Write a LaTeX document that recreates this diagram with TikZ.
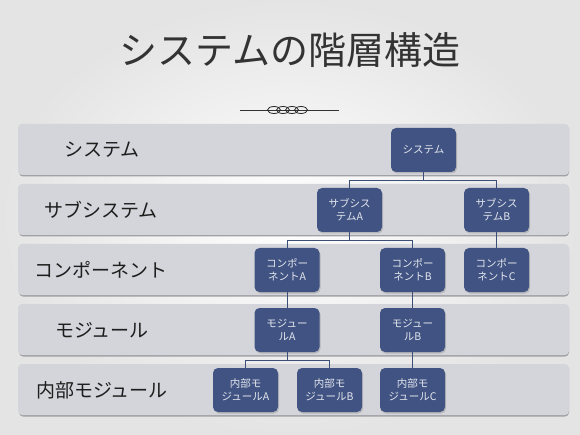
\documentclass[tikz,border=0pt]{standalone}
\usepackage{fontspec}
\setmainfont{Noto Sans CJK JP}
\usetikzlibrary{shadows}
\definecolor{bgout}{RGB}{228,228,228}
\definecolor{bandfill}{RGB}{211,213,218}
\definecolor{bandshadow}{RGB}{160,160,165}
\definecolor{boxfill}{RGB}{64,83,130}
\definecolor{boxtext}{RGB}{228,231,238}
\definecolor{linkcol}{RGB}{58,78,118}
\definecolor{labeltext}{RGB}{30,30,30}
\tikzset{
  band/.style={fill=bandfill, rounded corners=4pt},
  bandshade/.style={fill=bandshadow, rounded corners=4pt},
  bandlabel/.style={text=labeltext, font=\fontsize{19}{21}\selectfont, inner sep=0pt},
  unit/.style={fill=boxfill, rounded corners=5pt, minimum width=65pt, minimum height=44pt,
    text=boxtext, align=center, inner sep=1pt, font=\fontsize{10.5}{13}\selectfont,
    drop shadow={shadow xshift=1pt, shadow yshift=-1.5pt, opacity=0.35}},
  link/.style={draw=linkcol, line width=0.9pt}
}
\begin{document}
\begin{tikzpicture}[x=1pt,y=-1pt]
\useasboundingbox (0,0) rectangle (580,435);
\shade[inner color=white, outer color=bgout] (0,0) rectangle (580,435);
% title
\node[font=\fontsize{38}{40}\selectfont, text=black!80] (title) at (290,50) {システムの階層構造};
% ornament
\coordinate (ornL) at (240,110);
\coordinate (ornR) at (339,110);
\draw[line width=0.9pt, black!80] (ornL) -- (ornR);
\foreach \cx in {274,283,292,301}
  \draw[line width=0.8pt, black!85] (\cx,110) ellipse (6.5pt and 3.5pt);
% bands
\foreach \i in {0,...,4}{
  \fill[bandshade] (19,{124+60*\i+1.5}) rectangle (569,{175+60*\i+1.5});
  \fill[band] (18,{124+60*\i}) rectangle (569,{175+60*\i});
}
% band labels
\node[bandlabel] (l1) at (102,150) {システム};
\node[bandlabel] (l2) at (101,210) {サブシステム};
\node[bandlabel] (l3) at (101,270) {コンポーネント};
\node[bandlabel] (l4) at (102,330) {モジュール};
\node[bandlabel] (l5) at (102,390) {内部モジュール};
% boxes
\node[unit] (sys) at (423.5,150) {システム};
\node[unit] (subA) at (349.5,210) {サブシス\\テムA};
\node[unit] (subB) at (496.5,210) {サブシス\\テムB};
\node[unit] (compA) at (287,270) {コンポー\\ネントA};
\node[unit] (compB) at (412.5,270) {コンポー\\ネントB};
\node[unit] (compC) at (496.5,270) {コンポー\\ネントC};
\node[unit] (modA) at (287,330) {モジュー\\ルA};
\node[unit] (modB) at (412.5,330) {モジュー\\ルB};
\node[unit] (inA) at (245.5,390) {内部モ\\ジュールA};
\node[unit] (inB) at (329.5,390) {内部モ\\ジュールB};
\node[unit] (inC) at (412.5,390) {内部モ\\ジュールC};
% connectors
\draw[link] (sys.south) -- ++(0,8) -| (subA.north);
\draw[link] (sys.south) -- ++(0,8) -| (subB.north);
\draw[link] (subA.south) -- ++(0,8) -| (compA.north);
\draw[link] (subA.south) -- ++(0,8) -| (compB.north);
\draw[link] (subB.south) -- (compC.north);
\draw[link] (compA.south) -- (modA.north);
\draw[link] (compB.south) -- (modB.north);
\draw[link] (modA.south) -- ++(0,8) -| (inA.north);
\draw[link] (modA.south) -- ++(0,8) -| (inB.north);
\draw[link] (modB.south) -- (inC.north);
\end{tikzpicture}
\end{document}
